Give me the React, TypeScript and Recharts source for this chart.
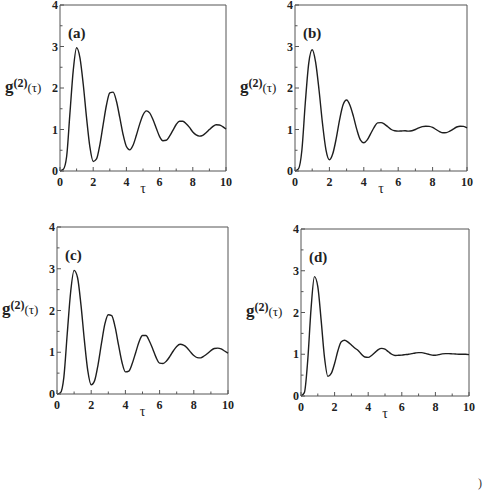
import { LineChart, Line, XAxis, YAxis, ReferenceLine } from 'recharts'

// tau grid shared by all four panels
const TAU = [
  0, 0.2, 0.4, 0.6, 0.8, 1.0, 1.2, 1.4, 1.6, 1.8, 2.0, 2.2, 2.4, 2.6, 2.8, 3.0, 3.2, 3.4,
  3.6, 3.8, 4.0, 4.2, 4.4, 4.6, 4.8, 5.0, 5.2, 5.4, 5.6, 5.8, 6.0, 6.2, 6.4, 6.6, 6.8,
  7.0, 7.2, 7.4, 7.6, 7.8, 8.0, 8.2, 8.4, 8.6, 8.8, 9.0, 9.2, 9.4, 9.6, 9.8, 10.0,
]

const G_A = [
  0, 0.04, 0.35, 1.4, 2.43, 2.97, 2.73, 2.09, 1.28, 0.58, 0.23, 0.29, 0.63, 1.12, 1.59, 1.88,
  1.9, 1.68, 1.29, 0.88, 0.59, 0.51, 0.62, 0.86, 1.13, 1.35, 1.45, 1.4, 1.24, 1.03, 0.83,
  0.73, 0.74, 0.84, 0.98, 1.12, 1.2, 1.2, 1.14, 1.05, 0.94, 0.87, 0.84, 0.86, 0.92, 1.0,
  1.07, 1.115, 1.11, 1.07, 1.01,
]

const G_B = [
  0, 0.05, 0.5, 1.65, 2.6, 2.92, 2.62, 1.94, 1.14, 0.51, 0.27, 0.42, 0.79, 1.25, 1.6, 1.71,
  1.58, 1.31, 0.99, 0.75, 0.68, 0.75, 0.9, 1.05, 1.16, 1.165, 1.13, 1.065, 1.0, 0.97, 0.96,
  0.965, 0.97, 0.96, 0.97, 1.0, 1.04, 1.07, 1.08, 1.075, 1.05, 1.0, 0.95, 0.92, 0.925, 0.96,
  1.01, 1.06, 1.08, 1.075, 1.04,
]

const G_C = [
  0, 0.03, 0.4, 1.45, 2.45, 2.96, 2.79, 2.14, 1.29, 0.56, 0.22, 0.32, 0.7, 1.21, 1.68, 1.9,
  1.88, 1.6, 1.17, 0.76, 0.53, 0.55, 0.73, 0.99, 1.25, 1.4, 1.4, 1.27, 1.08, 0.87, 0.74,
  0.73, 0.79, 0.9, 1.03, 1.14, 1.19, 1.17, 1.11, 1.01, 0.92, 0.87, 0.865, 0.91, 0.97, 1.04,
  1.09, 1.1, 1.08, 1.03, 0.98,
]

const G_D = [
  0, 0.08, 0.85, 2.1, 2.86, 2.62, 1.81, 0.92, 0.47, 0.54, 0.78, 1.09, 1.3, 1.335, 1.29, 1.22,
  1.15, 1.09, 1.0, 0.935, 0.925, 0.97, 1.04, 1.11, 1.14, 1.12, 1.06, 1.0, 0.97, 0.975, 0.98,
  0.99, 1.0, 1.015, 1.03, 1.04, 1.04, 1.02, 1.0, 0.98, 0.975, 0.99, 1.01, 1.015, 1.015, 1.01,
  1.005, 1.0, 1.0, 1.0, 0.99,
]

const X_TICKS = [0, 1, 2, 3, 4, 5, 6, 7, 8, 9, 10]
const X_LABELS = [0, 2, 4, 6, 8, 10]
const Y_TICKS = [0, 0.5, 1, 1.5, 2, 2.5, 3, 3.5, 4]
const Y_LABELS = [0, 1, 2, 3, 4]

const AXIS = '#555'
const CURVE = '#1e1e1e'
const FONT = "'Liberation Serif', 'Times New Roman', serif"
const GAP = 6
const Y_W = 40
const X_H = 30

const panels = [
  { letter: '(a)', values: G_A, left: 60, top: 5, w: 166, h: 166 },
  { letter: '(b)', values: G_B, left: 295, top: 5, w: 172, h: 166 },
  { letter: '(c)', values: G_C, left: 57, top: 227, w: 171, h: 167 },
  { letter: '(d)', values: G_D, left: 301, top: 229, w: 168, h: 167 },
]

const serif = { fontFamily: FONT }

const XTick = ({ x, y, payload }: any) => {
  const v = payload.value
  const major = X_LABELS.includes(v)
  const axisY = y - GAP
  return (
    <g>
      <line x1={x} x2={x} y1={axisY} y2={axisY - (major ? 4 : 2.5)} stroke={AXIS} />
      {major && (
        <text x={x} y={axisY + 15} textAnchor="middle" style={serif} fontWeight="bold" fontSize={12} fill="#222">
          {v}
        </text>
      )}
    </g>
  )
}

const YTick = ({ x, y, payload }: any) => {
  const v = payload.value
  const major = Y_LABELS.includes(v)
  const axisX = x + GAP
  return (
    <g>
      <line x1={axisX} x2={axisX + (major ? 4 : 2.5)} y1={y} y2={y} stroke={AXIS} />
      {major && (
        <text x={axisX - 2} y={y + 4} textAnchor="end" style={serif} fontWeight="bold" fontSize={12} fill="#222">
          {v}
        </text>
      )}
    </g>
  )
}

function Panel({ values, left, top, w, h }: { values: number[]; left: number; top: number; w: number; h: number }) {
  const data = TAU.map((t, i) => ({ tau: t, g: values[i] }))
  return (
    <div style={{ position: 'absolute', left: left - Y_W, top: top - 5 }}>
      <LineChart width={Y_W + w + 10} height={5 + h + X_H} data={data} margin={{ top: 5, right: 10, left: 0, bottom: 0 }}>
        <XAxis
          type="number"
          dataKey="tau"
          domain={[0, 10]}
          ticks={X_TICKS}
          interval={0}
          height={X_H}
          tickSize={0}
          tickMargin={GAP}
          tickLine={false}
          tick={<XTick />}
          stroke={AXIS}
        />
        <YAxis
          type="number"
          domain={[0, 4]}
          ticks={Y_TICKS}
          interval={0}
          width={Y_W}
          tickSize={0}
          tickMargin={GAP}
          tickLine={false}
          tick={<YTick />}
          stroke={AXIS}
        />
        <ReferenceLine x={10} stroke={AXIS} />
        <ReferenceLine y={4} stroke={AXIS} />
        <Line type="monotone" dataKey="g" stroke={CURVE} strokeWidth={1.4} dot={false} isAnimationActive={false} />
      </LineChart>
    </div>
  )
}

export default function App() {
  return (
    <div style={{ position: 'absolute', left: 0, top: 0, width: 483, height: 491, background: '#fff' }}>
      {panels.map((p) => (
        <Panel key={p.letter} values={p.values} left={p.left} top={p.top} w={p.w} h={p.h} />
      ))}
      <svg width={483} height={491} style={{ position: 'absolute', left: 0, top: 0, pointerEvents: 'none', fontFamily: FONT }}>
        {panels.map((p) => {
          const gx = p.left - 55
          const gy = p.top + 87
          return (
            <g key={p.letter} fill="#222">
              <text x={p.left + 8} y={p.top + 33} fontSize={15} fontWeight="bold">
                {p.letter}
              </text>
              <text x={gx} y={gy} fontSize={17} fontWeight="bold">
                g
                <tspan fontSize={12} dy={-5}>(2)</tspan>
                <tspan fontSize={13} fontWeight="normal" dy={5}>(τ)</tspan>
              </text>
              <text x={p.left + p.w / 2} y={p.top + p.h + 22} fontSize={14} textAnchor="middle">
                τ
              </text>
            </g>
          )
        })}
        <text x={478} y={487} fontSize={12} fill="#333">)</text>
      </svg>
    </div>
  )
}
